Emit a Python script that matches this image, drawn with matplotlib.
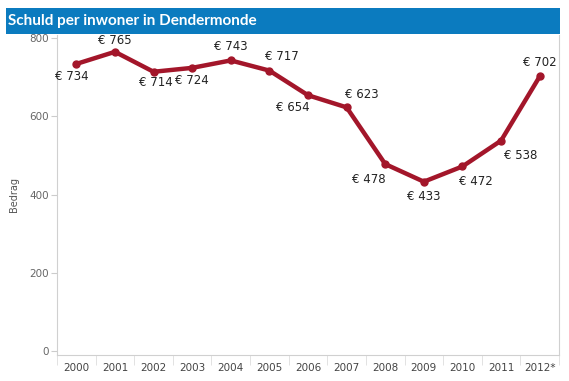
import matplotlib
matplotlib.use("Agg")
import matplotlib.pyplot as plt
from matplotlib.patches import Rectangle
import numpy as np

years = ["2000", "2001", "2002", "2003", "2004", "2005", "2006", "2007",
         "2008", "2009", "2010", "2011", "2012*"]
values = [734, 765, 714, 724, 743, 717, 654, 623, 478, 433, 472, 538, 702]
# label offsets in points (dx, dy)
offsets = [(-3, -9), (0, 8), (2, -8), (0, -9), (0, 10), (9, 10), (-11, -9),
           (11, 9), (-12, -11), (0, -11), (10, -11), (14, -11), (0, 10)]

fig = plt.figure(figsize=(5.69, 3.81), dpi=100)
fig.patch.set_facecolor("white")

# title bar
fig.patches.append(Rectangle((6/569, 1-34/381), (560-6)/569, 26/381,
                             transform=fig.transFigure, facecolor="#0B7BBF",
                             edgecolor="none", zorder=0))
fig.text(8/569, 1-21/381, "Schuld per inwoner in Dendermonde", color="white",
         fontsize=11, fontweight="bold", va="center", ha="left",
         family="Lato")

ax = fig.add_axes([57/569, 1-355/381, (559-57)/569, (355-35)/381])
x = np.arange(len(years))
ax.plot(x, values, color="#A3162A", lw=3.2, marker="o", ms=5,
        solid_joinstyle="round", zorder=3)
for xi, v, (dx, dy) in zip(x, values, offsets):
    ax.annotate(f"€ {v}", (xi, v), xytext=(dx, dy), textcoords="offset points",
                ha="center", va="center", fontsize=8.5, color="#222222")

ax.set_xlim(-0.5, len(years) - 0.5)
ax.set_ylim(-10, 808)
ax.set_yticks([0, 200, 400, 600, 800])
ax.set_xticks(x)
ax.set_xticklabels(years)
ax.set_xticks(np.arange(-0.5, len(years)), minor=True)
ax.tick_params(axis="x", which="major", length=0, pad=6, labelsize=7.5,
               labelcolor="#444444")
ax.tick_params(axis="x", which="minor", length=7, color="#dddddd")
ax.tick_params(axis="y", length=4, color="#cccccc", labelsize=7.5,
               labelcolor="#666666", pad=2)
for s in ["top"]:
    ax.spines[s].set_visible(False)
for s in ["left", "right", "bottom"]:
    ax.spines[s].set_color("#d0d0d0")
    ax.spines[s].set_linewidth(0.8)
ax.set_ylabel("Bedrag", fontsize=7, color="#555555", labelpad=7)

fig.savefig("out.png", dpi=100)
